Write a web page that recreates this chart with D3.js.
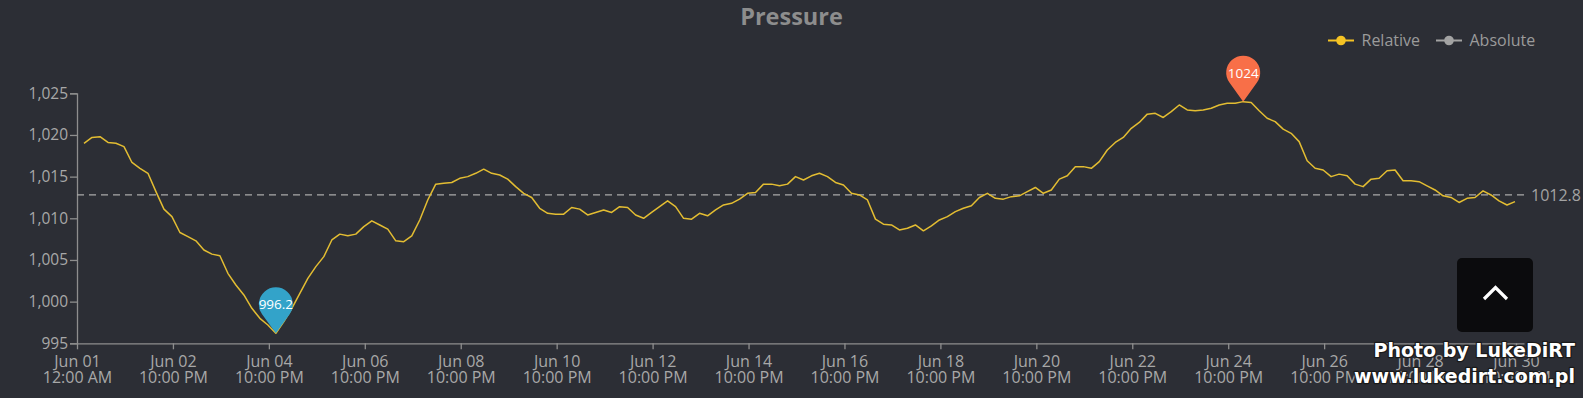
<!DOCTYPE html>
<html>
<head>
<meta charset="utf-8">
<script src="https://cdn.jsdelivr.net/npm/d3@7"></script>
<style>
  html, body { margin: 0; padding: 0; background: #2c2e35; overflow: hidden; }
  text { font-family: "Open Sans", "Noto Sans", sans-serif; }
</style>
</head>
<body>
<div id="chart"></div>
<script>
// readings every 4 hours, starting Jun 01 03:30
const startTime = Date.UTC(2024, 5, 1, 3, 30);
const stepHours = 4;
const relative = [
  1019.0, 1019.7, 1019.8, 1019.1, 1019.0, 1018.6, 1016.7, 1016.0, 1015.4, 1013.2,
  1011.1, 1010.2, 1008.3, 1007.8, 1007.3, 1006.2, 1005.7, 1005.5, 1003.4, 1002.0,
  1000.8, 999.2, 998.0, 997.2, 996.2, 997.6, 999.2, 1001.0, 1002.8, 1004.2,
  1005.4, 1007.4, 1008.1, 1007.9, 1008.1, 1009.0, 1009.7, 1009.2, 1008.7, 1007.3,
  1007.2, 1007.9, 1009.8, 1012.2, 1014.1, 1014.2, 1014.3, 1014.8, 1015.0, 1015.4,
  1015.9, 1015.4, 1015.2, 1014.7, 1013.8, 1013.0, 1012.5, 1011.2, 1010.6, 1010.5,
  1010.5, 1011.3, 1011.1, 1010.4, 1010.7, 1011.0, 1010.7, 1011.4, 1011.3, 1010.4,
  1010.0, 1010.7, 1011.4, 1012.1, 1011.4, 1010.0, 1009.9, 1010.6, 1010.3, 1011.0,
  1011.6, 1011.8, 1012.3, 1013.0, 1013.1, 1014.1, 1014.1, 1013.9, 1014.1, 1015.0,
  1014.6, 1015.1, 1015.4, 1015.0, 1014.3, 1014.0, 1013.0, 1012.8, 1012.2, 1009.9,
  1009.3, 1009.2, 1008.6, 1008.8, 1009.2, 1008.5, 1009.1, 1009.8, 1010.2, 1010.8,
  1011.2, 1011.5, 1012.5, 1013.0, 1012.4, 1012.3, 1012.6, 1012.7, 1013.2, 1013.7,
  1013.0, 1013.4, 1014.7, 1015.1, 1016.2, 1016.2, 1016.0, 1016.8, 1018.2, 1019.1,
  1019.7, 1020.8, 1021.5, 1022.5, 1022.6, 1022.1, 1022.8, 1023.6, 1023.0, 1022.9,
  1023.0, 1023.2, 1023.6, 1023.8, 1023.8, 1024.0, 1023.9, 1022.9, 1022.0, 1021.6,
  1020.7, 1020.2, 1019.2, 1016.9, 1016.0, 1015.8, 1015.0, 1015.3, 1015.1, 1014.1,
  1013.8, 1014.7, 1014.8, 1015.7, 1015.8, 1014.5, 1014.5, 1014.4, 1013.9, 1013.4,
  1012.7, 1012.5, 1011.9, 1012.4, 1012.5, 1013.3, 1012.8, 1012.1, 1011.6, 1012.0
];
const averageValue = 1012.8;

const tickDays = ["Jun 01", "Jun 02", "Jun 04", "Jun 06", "Jun 08", "Jun 10", "Jun 12", "Jun 14",
                  "Jun 16", "Jun 18", "Jun 20", "Jun 22", "Jun 24", "Jun 26", "Jun 28", "Jun 30"];
const tickTimes = ["12:00 AM", "10:00 PM", "10:00 PM", "10:00 PM", "10:00 PM", "10:00 PM", "10:00 PM", "10:00 PM",
                   "10:00 PM", "10:00 PM", "10:00 PM", "10:00 PM", "10:00 PM", "10:00 PM", "10:00 PM", "10:00 PM"];
const yTicks = [995, 1000, 1005, 1010, 1015, 1020, 1025];
const legendItems = ["Relative", "Absolute"];
const legendColors = ["#f5c324", "#a3a3a3"];

const width = 1583, height = 398;
const plotLeft = 77, plotRight = 1524, plotTop = 93.3, plotBottom = 343.3;

const data = relative.map((v, i) => ({ time: new Date(startTime + i * stepHours * 3600000), value: v }));

const svg = d3.select("#chart").append("svg")
    .attr("width", width)
    .attr("height", height);

const xScale = d3.scaleUtc()
  .domain([new Date(Date.UTC(2024, 5, 1)), new Date(Date.UTC(2024, 6, 1, 4))])
  .range([plotLeft, plotRight]);

const yScale = d3.scaleLinear()
  .domain([995, 1025])
  .range([plotBottom, plotTop]);

// title
svg.append("text")
  .attr("x", width / 2)
  .attr("y", 25)
  .attr("text-anchor", "middle")
  .style("font-size", "23.5px")
  .style("font-weight", "bold")
  .attr("fill", "#8d8d8d")
  .text("Pressure");

// legend
const legend = svg.append("g");
const legendX = [1328, 1436];
legendItems.forEach((name, i) => {
  const g = legend.append("g").attr("transform", "translate(" + legendX[i] + ",40.5)");
  g.append("line").attr("x1", 0).attr("x2", 26).attr("stroke", legendColors[i]).attr("stroke-width", 2);
  g.append("circle").attr("cx", 13).attr("r", 4.8).attr("fill", legendColors[i]);
  g.append("text")
    .attr("x", 33.5)
    .attr("y", 5.5)
    .style("font-size", "16px")
    .attr("fill", "#9b9b9b")
    .text(name);
});

// y axis
const yAxis = svg.append("g")
  .attr("transform", "translate(" + plotLeft + ",0)")
  .call(d3.axisLeft(yScale).tickValues(yTicks).tickFormat(d3.format(",")).tickSize(7).tickPadding(2));
yAxis.select(".domain").attr("stroke", "#8e8e8e").attr("stroke-width", 1.3);
yAxis.selectAll(".tick line").attr("stroke", "#8e8e8e").attr("stroke-width", 1.3);
yAxis.selectAll(".tick text")
  .style("font-size", "15.5px")
  .style("font-family", "'Open Sans', sans-serif")
  .attr("fill", "#a8a8a8");

// x axis
const xTickDates = d3.utcDay.every(2).range(new Date(Date.UTC(2024, 5, 1)), new Date(Date.UTC(2024, 6, 1, 1)));
const xAxis = svg.append("g")
  .attr("transform", "translate(0," + plotBottom + ")")
  .call(d3.axisBottom(xScale).tickValues(xTickDates).tickSize(6).tickSizeOuter(0));
xAxis.select(".domain").attr("stroke", "#8e8e8e").attr("stroke-width", 1.3);
xAxis.selectAll(".tick line").attr("stroke", "#8e8e8e").attr("stroke-width", 1.3);
xAxis.selectAll(".tick text")
  .style("font-size", "16px")
  .style("font-family", "'Open Sans', sans-serif")
  .attr("fill", "#a8a8a8")
  .attr("y", 12)
  .attr("dy", null)
  .each(function(d, i) {
    const t = d3.select(this);
    t.text(null);
    t.append("tspan").attr("x", 0).attr("dy", "0.71em").text(tickDays[i]);
    t.append("tspan").attr("x", 0).attr("dy", "1em").text(tickTimes[i]);
  });

// average line
svg.append("line")
  .attr("x1", plotLeft)
  .attr("x2", plotRight)
  .attr("y1", yScale(averageValue))
  .attr("y2", yScale(averageValue))
  .attr("stroke", "#a9a9a9")
  .attr("stroke-width", 1.2)
  .attr("stroke-dasharray", "7,5");

svg.append("text")
  .attr("x", plotRight + 7)
  .attr("y", yScale(averageValue))
  .attr("dy", "0.35em")
  .style("font-size", "16px")
  .attr("fill", "#a3a3a3")
  .text(averageValue);

// the line
const line = d3.line()
  .x(d => xScale(d.time))
  .y(d => yScale(d.value));

svg.append("path")
  .datum(data)
  .attr("fill", "none")
  .attr("stroke", "#e3bd32")
  .attr("stroke-width", 1.5)
  .attr("stroke-linejoin", "round")
  .attr("d", line);

// min / max pins
const minPoint = data.reduce((a, b) => b.value < a.value ? b : a);
const maxPoint = data.reduce((a, b) => b.value > a.value ? b : a);
const pinPath = "M0,0 L13.77,-19.03 A17,17 0 1 0 -13.77,-19.03 Z";

[[minPoint, "#33a3c9"], [maxPoint, "#f86f48"]].forEach(([p, color]) => {
  const g = svg.append("g")
    .attr("transform", "translate(" + xScale(p.time) + "," + yScale(p.value) + ")");
  g.append("path").attr("d", pinPath).attr("fill", color);
  g.append("text")
    .attr("y", -29)
    .attr("dy", "0.36em")
    .attr("text-anchor", "middle")
    .style("font-size", "13.5px")
    .attr("fill", "#ffffff")
    .text(String(p.value));
});

// back-to-top button
const btn = svg.append("g");
btn.append("rect")
  .attr("x", 1457).attr("y", 258)
  .attr("width", 76).attr("height", 74)
  .attr("rx", 5)
  .attr("fill", "#0b0b0d");
btn.append("path")
  .attr("d", "M1484,299 L1495.5,287.5 L1507,299")
  .attr("fill", "none")
  .attr("stroke", "#ffffff")
  .attr("stroke-width", 3.2);

// watermark
const wm = svg.append("g")
  .style("font-weight", "bold")
  .style("font-size", "19px")
  .attr("text-anchor", "end")
  .attr("fill", "#ffffff")
  .attr("stroke", "#1a1a1a")
  .attr("stroke-width", 2.5)
  .attr("paint-order", "stroke")
  .attr("stroke-linejoin", "round");
wm.append("text").attr("x", 1575).attr("y", 357).style("font-family", "'DejaVu Sans', sans-serif").text("Photo by LukeDiRT");
wm.append("text").attr("x", 1575).attr("y", 382.5).style("font-family", "'DejaVu Sans', sans-serif").text("www.lukedirt.com.pl");
</script>
</body>
</html>
